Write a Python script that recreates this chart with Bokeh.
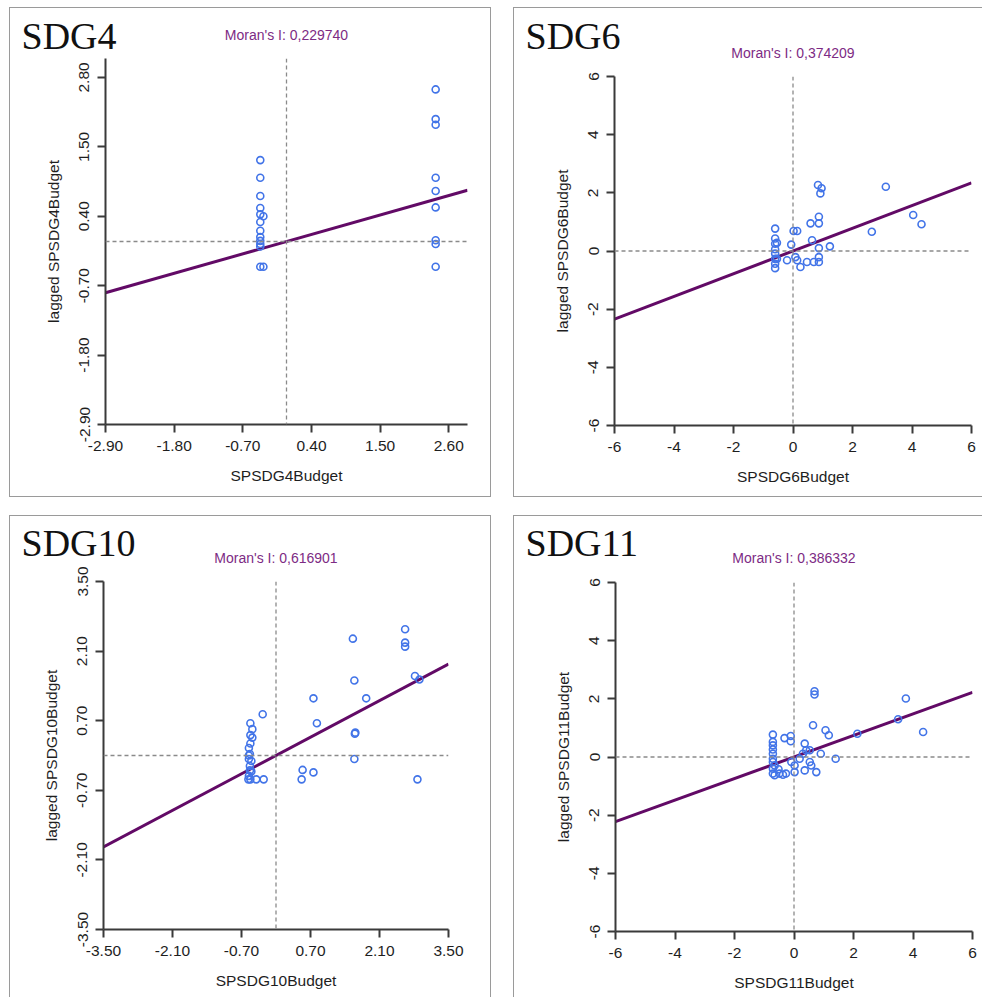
from bokeh.plotting import figure
from bokeh.models import Span, FixedTicker, Title, GridBox
from bokeh.core.properties import value
from bokeh.embed import file_html
from bokeh.resources import INLINE

# ---------------- data ----------------
# SDG4
sdg4_x = [-0.42, -0.42, -0.42, -0.42, -0.42, -0.37, -0.42, -0.42, -0.42, -0.42, -0.42, -0.42, -0.42, -0.37,
          2.39, 2.39, 2.39, 2.39, 2.39, 2.39, 2.39, 2.39, 2.39]
sdg4_y = [1.29, 1.01, 0.72, 0.53, 0.43, 0.40, 0.31, 0.17, 0.07, 0.01, -0.04, -0.08, -0.40, -0.40,
          2.41, 1.94, 1.85, 1.01, 0.80, 0.54, 0.02, -0.04, -0.40]
sdg4_moran = "0,229740"
sdg4_slope = 0.28

# SDG6
sdg6_x = [-0.60, -0.60, -0.60, -0.60, -0.60, -0.60, -0.60, -0.60, -0.54, -0.54,
          -0.20, -0.06, 0.02, 0.14, 0.08, 0.25, 0.14, 0.47, 0.64, 0.59,
          0.87, 0.87, 0.87, 0.87, 0.87, 0.70, 0.84, 0.96, 0.92, 1.24,
          2.65, 3.12, 4.04, 4.32]
sdg6_y = [0.77, 0.43, 0.25, 0.06, -0.09, -0.27, -0.44, -0.59, 0.28, -0.27,
          -0.32, 0.22, 0.69, 0.69, -0.21, -0.55, -0.32, -0.38, 0.37, 0.95,
          1.18, 0.95, 0.10, -0.21, -0.38, -0.38, 2.27, 2.16, 1.98, 0.16,
          0.66, 2.21, 1.24, 0.92]
sdg6_moran = "0,374209"
sdg6_slope = 0.39

# SDG10
sdg10_x = [-0.52, -0.48, -0.52, -0.48, -0.52, -0.55, -0.53, -0.55, -0.50, -0.53,
           -0.50, -0.55, -0.56, -0.52, -0.40, -0.25, -0.27, -0.55, -0.53,
           0.76, 0.83, 0.54, 0.52, 0.76, 1.59, 1.56, 1.83, 1.61, 1.60, 1.59,
           2.62, 2.62, 2.62, 2.82, 2.91, 2.87]
sdg10_y = [0.65, 0.53, 0.41, 0.36, 0.24, 0.15, 0.03, -0.07, -0.11, -0.21,
           -0.32, -0.41, -0.48, -0.48, -0.48, -0.48, 0.83, 0.00, -0.30,
           1.15, 0.65, -0.29, -0.48, -0.34, 1.51, 2.35, 1.15, 0.46, 0.44, -0.07,
           2.54, 2.27, 2.19, 1.60, 1.53, -0.48]
sdg10_moran = "0,616901"
sdg10_slope = 0.525

# SDG11
sdg11_x = [-0.71, -0.71, -0.71, -0.71, -0.71, -0.71, -0.71, -0.65, -0.71, -0.71, -0.65,
           -0.52, -0.37, -0.32, -0.11, -0.11, -0.09, 0.02, 0.02, 0.19, 0.36, 0.30,
           0.41, 0.53, 0.36, 0.53, 0.58, 0.64, 0.75, 0.69, 0.69, 0.90, 1.06, 1.17,
           1.40, 2.13, 3.50, 3.76, 4.34, -0.27, -0.49]
sdg11_y = [0.77, 0.52, 0.40, 0.26, 0.11, -0.06, -0.17, -0.29, -0.40, -0.57, -0.63,
           -0.42, -0.61, 0.65, 0.72, 0.54, -0.17, -0.29, -0.52, -0.06, 0.46, 0.11,
           0.23, 0.23, -0.46, -0.17, -0.29, 1.09, -0.52, 2.26, 2.15, 0.11, 0.92, 0.75,
           -0.06, 0.80, 1.30, 2.01, 0.86, -0.57, -0.57]
sdg11_moran = "0,386332"
sdg11_slope = 0.37

ticks_29 = [-2.9, -1.8, -0.7, 0.4, 1.5, 2.6]
labels_29_x = ["-2.90", "-1.80", "-0.70", "0.40", "1.50", "2.60"]
labels_29_y = ["-2.90", "-1.80", "-0.70", "0.40", "1.50", "2.80"]
ticks_35 = [-3.5, -2.1, -0.7, 0.7, 2.1, 3.5]
labels_35 = ["-3.50", "-2.10", "-0.70", "0.70", "2.10", "3.50"]
ticks_6 = [-6, -4, -2, 0, 2, 4, 6]
labels_6 = ["-6", "-4", "-2", "0", "2", "4", "6"]

AX_FONT = "Liberation Sans"
PURPLE_LINE = "#620a66"
PURPLE_TEXT = "#7d2b84"
DOT = "#4274e8"
BORDER = "1px solid #9a9a9a"


def panel(xs, ys, moran, slope, lim, xt, xl, yt, yl, var,
          fw, fh, bl, br, bt, bb, moran_standoff, sides):
    styles = {"border-" + s: BORDER for s in sides}
    p = figure(frame_width=fw, frame_height=fh,
               min_border_left=bl, min_border_right=br,
               min_border_top=bt, min_border_bottom=bb,
               x_range=(-lim, lim), y_range=(-lim, lim),
               frame_align=False,
               output_backend="svg", toolbar_location=None,
               background_fill_color="white", border_fill_color="white",
               styles=styles)
    p.outline_line_color = None
    p.grid.visible = False

    for dim in ("height", "width"):
        p.add_layout(Span(location=0, dimension=dim, line_color="#8a8a8a",
                          line_width=1.3, line_dash="4 3"))

    p.line([-lim, lim], [-lim * slope, lim * slope], line_color=PURPLE_LINE, line_width=3)
    p.scatter(xs, ys, marker="circle", size=7, fill_color=None,
              line_color=DOT, line_width=1.6)

    p.xaxis.ticker = FixedTicker(ticks=xt)
    p.xaxis.major_label_overrides = dict(zip(xt, xl))
    p.yaxis.ticker = FixedTicker(ticks=yt)
    p.yaxis.major_label_overrides = dict(zip(yt, yl))
    p.yaxis.major_label_orientation = "parallel"
    p.axis.minor_tick_line_color = None
    p.axis.major_tick_in = 0
    p.axis.major_tick_out = 8
    p.axis.major_tick_line_width = 2
    p.axis.major_tick_line_color = "#3a3a3a"
    p.axis.axis_line_width = 2
    p.axis.axis_line_color = "#3a3a3a"
    p.axis.major_label_text_font = AX_FONT
    p.axis.major_label_text_font_size = "15.5px"
    p.axis.major_label_text_color = "#1e1e1e"
    p.axis.major_label_standoff = 8
    p.axis.axis_label_text_font = AX_FONT
    p.axis.axis_label_text_font_size = "15.5px"
    p.axis.axis_label_text_font_style = "normal"
    p.axis.axis_label_text_color = "#1e1e1e"
    p.xaxis.axis_label_standoff = 13
    p.yaxis.axis_label_standoff = 15
    p.xaxis.axis_label = var
    p.yaxis.axis_label = "lagged " + var

    p.title = Title(text="Moran's I: " + moran, align="center",
                    text_font=AX_FONT, text_font_size="14px",
                    text_font_style="normal", text_color=PURPLE_TEXT,
                    standoff=moran_standoff)
    return p


def name_overlay(name, tx, ty):
    o = figure(width=200, height=70, min_border=0,
               x_range=(0, 200), y_range=(70, 0),
               x_axis_location=None, y_axis_location=None, title_location=None,
               frame_align=False, output_backend="svg", toolbar_location=None,
               background_fill_alpha=0, border_fill_alpha=0)
    o.outline_line_color = None
    o.grid.visible = False
    o.text(x=[tx], y=[ty], text=[name], text_align="left",
           text_baseline="middle", text_font=value("Liberation Serif"),
           text_font_size=value("38px"), text_color="#111111")
    return o


p1 = panel(sdg4_x, sdg4_y, sdg4_moran, sdg4_slope, 2.9,
           ticks_29, labels_29_x, ticks_29, labels_29_y, "SPSDG4Budget",
           360, 364, 95, 25, 50, 74, 32, ["left", "top", "right", "bottom"])
p2 = panel(sdg6_x, sdg6_y, sdg6_moran, sdg6_slope, 6,
           ticks_6, labels_6, ticks_6, labels_6, "SPSDG6Budget",
           356, 347, 100, 12, 68, 73, 32, ["left", "top", "bottom"])
p3 = panel(sdg10_x, sdg10_y, sdg10_moran, sdg10_slope, 3.5,
           ticks_35, labels_35, ticks_35, labels_35, "SPSDG10Budget",
           343, 347, 93, 44, 65, 69, 32, ["left", "top", "right"])
p4 = panel(sdg11_x, sdg11_y, sdg11_moran, sdg11_slope, 6,
           ticks_6, labels_6, ticks_6, labels_6, "SPSDG11Budget",
           356, 348, 101, 11, 66, 67, 34, ["left", "top"])

o1 = name_overlay("SDG4", 12, 28)
o2 = name_overlay("SDG6", 12, 28)
o3 = name_overlay("SDG10", 12, 27)
o4 = name_overlay("SDG11", 12, 27)

layout = GridBox(children=[(p1, 0, 0), (o1, 0, 0), (p2, 0, 1), (o2, 0, 1),
                           (p3, 1, 0), (o3, 1, 0), (p4, 1, 1), (o4, 1, 1)],
                 spacing=(18, 22),
                 styles={"margin-left": "9px", "margin-top": "7px"})

open("out.html", "w").write(file_html(layout, INLINE))
